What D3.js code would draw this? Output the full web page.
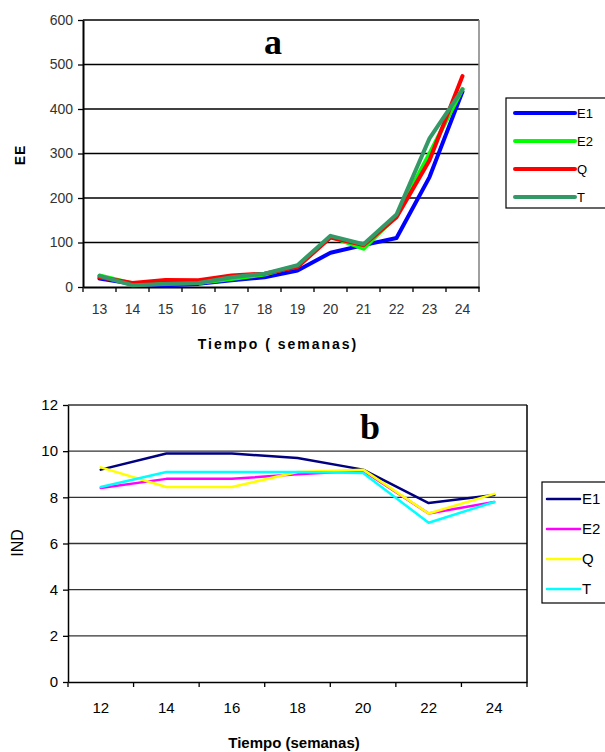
<!DOCTYPE html>
<html><head><meta charset="utf-8">
<script src="https://cdn.jsdelivr.net/npm/d3@7"></script>
<style>body{margin:0;background:#fff}svg{display:block}</style>
</head><body>
<script>
// Chart a data
const weeksA = [13,14,15,16,17,18,19,20,21,22,23,24];
const seriesNamesA = ["E1","E2","Q","T"];
const colorsA = ["#0000ff","#00ff00","#ff0000","#339966"];
const e1A = [19,7,4,7,15,22,37,77,94,110,247,439];
const e2A = [26,8,8,9,18,28,48,113,86,160,300,445];
const qA  = [22,9,16,15,26,30,45,111,94,157,285,474];
const tA  = [25,4,7,9,22,30,49,115,96,163,334,444];
const yTicksA = [0,100,200,300,400,500,600];

// Chart b data
const weeksB = [12,14,16,18,20,22,24];
const seriesNamesB = ["E1","E2","Q","T"];
const colorsB = ["#000080","#ff00ff","#ffff00","#00ffff"];
const e1B = [9.2,9.9,9.9,9.7,9.2,7.75,8.1];
const e2B = [8.4,8.8,8.8,9.0,9.15,7.3,7.8];
const qB  = [9.3,8.45,8.45,9.1,9.2,7.3,8.15];
const tB  = [8.45,9.1,9.1,9.1,9.05,6.9,7.8];
const yTicksB = [0,2,4,6,8,10,12];

const svg = d3.select("body").append("svg").attr("width",605).attr("height",752);

function drawChart(o){
  const g = svg.append("g");
  const x = d3.scaleBand().domain(o.cats).range([o.l,o.r]);
  const y = d3.scaleLinear().domain([0,d3.max(o.yTicks)]).range([o.b,o.t]);
  // gridlines
  g.selectAll("line.grid").data(o.yTicks.filter(v=>v>0)).enter().append("line")
    .attr("x1",o.l).attr("x2",o.r).attr("y1",d=>y(d)).attr("y2",d=>y(d))
    .attr("stroke",o.gridColor).attr("stroke-width",1.3);
  // right border
  g.append("line").attr("x1",o.r).attr("x2",o.r).attr("y1",o.t).attr("y2",o.b)
    .attr("stroke",o.borderColor).attr("stroke-width",1.5);
  // y axis
  const ya = d3.axisLeft(y).tickValues(o.yTicks).tickSize(5).tickSizeOuter(0).tickPadding(5);
  const yg = g.append("g").attr("transform",`translate(${o.l},0)`).call(ya);
  yg.select(".domain").attr("stroke","#000").attr("stroke-width",o.axisW);
  yg.selectAll(".tick line").attr("stroke","#000").attr("stroke-width",1.3);
  yg.selectAll("text").attr("font-family","Arial, 'Liberation Sans', sans-serif")
    .attr("font-size",o.fs).attr("fill",o.labelColor);
  // x axis with ticks between categories
  const xa = d3.axisBottom(x).tickSize(0).tickPadding(o.xPad);
  const xg = g.append("g").attr("transform",`translate(0,${o.b})`).call(xa);
  xg.select(".domain").attr("stroke","#000").attr("stroke-width",o.axisW);
  xg.selectAll("text").attr("font-family","Arial, 'Liberation Sans', sans-serif")
    .attr("font-size",o.fs).attr("fill",o.labelColor);
  const bounds = o.cats.map(c=>x(c)).concat([o.r]);
  g.selectAll("line.xt").data(bounds).enter().append("line")
    .attr("x1",d=>d).attr("x2",d=>d).attr("y1",o.b).attr("y2",o.b+5)
    .attr("stroke","#000").attr("stroke-width",1.3);
  // lines
  const line = d3.line().x((d,i)=>x(o.cats[i])+x.bandwidth()/2).y(d=>y(d));
  o.series.forEach((s,i)=>{
    g.append("path").datum(s).attr("d",line).attr("fill","none")
      .attr("stroke",o.colors[i]).attr("stroke-width",o.lw)
      .attr("stroke-linejoin","round").attr("stroke-linecap","round");
  });
  // title letter
  g.append("text").attr("x",o.titleX).attr("y",o.titleY).attr("text-anchor","middle")
    .attr("font-family","'Liberation Serif', 'Times New Roman', serif").attr("font-weight","bold")
    .attr("font-size",36).text(o.title);
  // axis titles
  g.append("text").attr("transform",`translate(${o.ytX},${o.ytY}) rotate(-90)`)
    .attr("text-anchor","middle").attr("font-family","Arial, 'Liberation Sans', sans-serif")
    .attr("font-weight",o.ytWeight).attr("font-size",o.ytFs).attr("letter-spacing",o.ytLs).text(o.yTitle);
  g.append("text").attr("x",o.xtX).attr("y",o.xtY).attr("text-anchor","middle")
    .attr("font-family","Arial, 'Liberation Sans', sans-serif").attr("font-weight","bold")
    .attr("font-size",o.xtFs).attr("letter-spacing",o.xtLs).text(o.xTitle);
  // legend
  const lg = g.append("g");
  lg.append("rect").attr("x",o.lgX).attr("y",o.lgY).attr("width",o.lgW).attr("height",o.lgH)
    .attr("fill","#fff").attr("stroke","#000").attr("stroke-width",1.2);
  o.names.forEach((n,i)=>{
    const yy = o.lgFirst + i*o.lgStep;
    lg.append("line").attr("x1",o.lgL1).attr("x2",o.lgL2).attr("y1",yy).attr("y2",yy)
      .attr("stroke",o.colors[i]).attr("stroke-width",o.lgLw).attr("stroke-linecap","round");
    lg.append("text").attr("x",o.lgL2+2).attr("y",yy+5).attr("font-family","Arial, 'Liberation Sans', sans-serif")
      .attr("font-size",o.lgFs).attr("fill","#000").text(n);
  });
}

drawChart({
  cats: weeksA, yTicks: yTicksA, series:[e1A,e2A,qA,tA], colors: colorsA, names: seriesNamesA,
  l:83, r:479, t:20, b:287, gridColor:"#000", borderColor:"#808080", axisW:2,
  fs:14, labelColor:"#333", xPad:17, lw:4,
  title:"a", titleX:273, titleY:54,
  yTitle:"EE", ytX:25, ytY:155, ytWeight:"bold", ytFs:14, ytLs:1,
  xTitle:"Tiempo ( semanas)", xtX:278, xtY:349, xtFs:14, xtLs:2,
  lgX:506, lgY:98, lgW:110, lgH:110, lgFirst:113, lgStep:28, lgL1:515, lgL2:575, lgLw:4, lgFs:13
});

drawChart({
  cats: weeksB, yTicks: yTicksB, series:[e1B,e2B,qB,tB], colors: colorsB, names: seriesNamesB,
  l:68, r:527, t:405, b:682, gridColor:"#333", borderColor:"#000", axisW:1.5,
  fs:15, labelColor:"#000", xPad:20, lw:2.5,
  title:"b", titleX:370, titleY:439,
  yTitle:"IND", ytX:23, ytY:543, ytWeight:"normal", ytFs:16, ytLs:0,
  xTitle:"Tiempo (semanas)", xtX:294, xtY:748, xtFs:15, xtLs:0,
  lgX:542, lgY:482, lgW:80, lgH:121, lgFirst:499, lgStep:30, lgL1:547, lgL2:580, lgLw:2.5, lgFs:15
});
</script>
</body></html>
